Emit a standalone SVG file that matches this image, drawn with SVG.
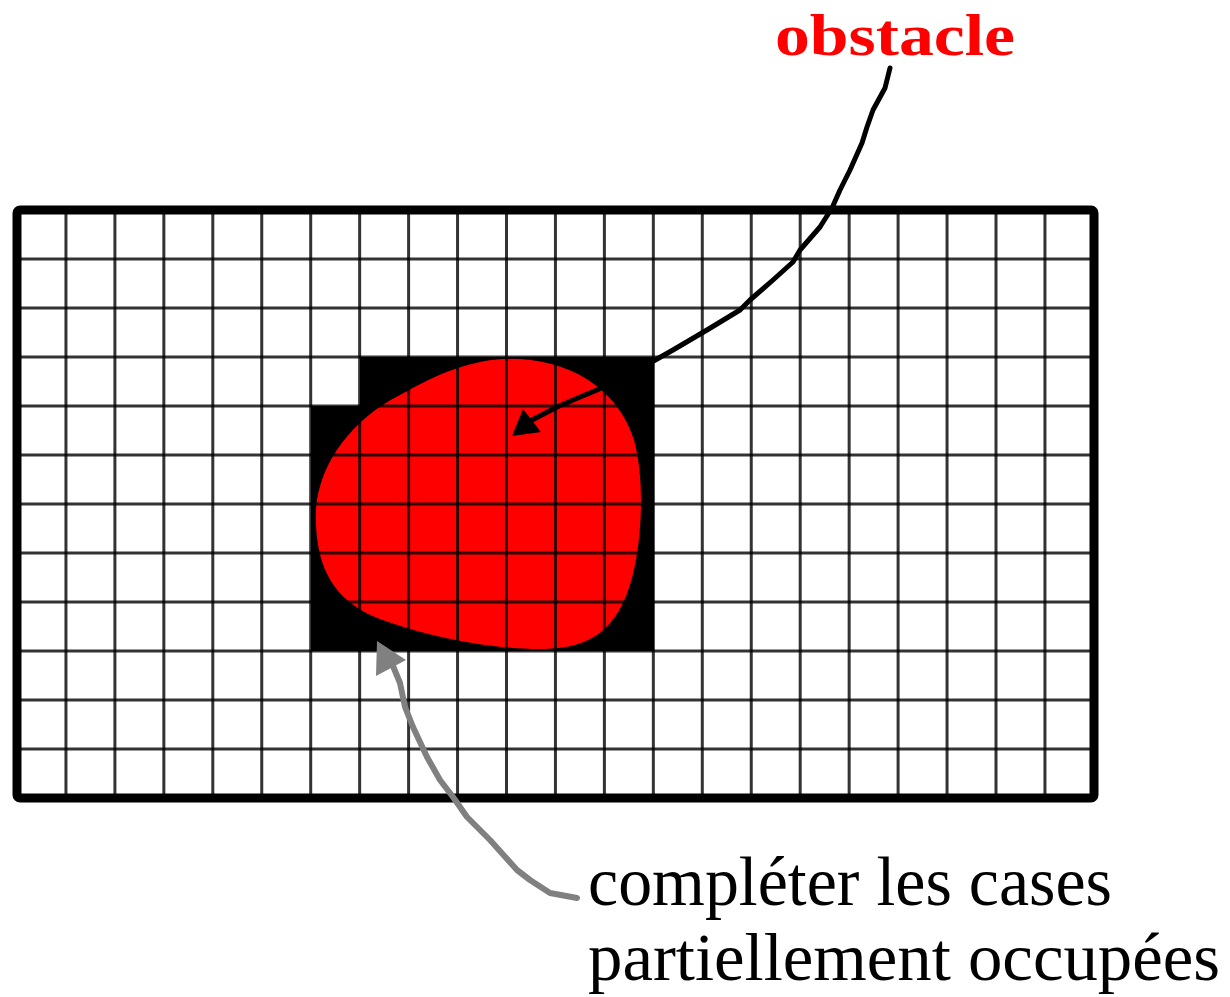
<svg xmlns="http://www.w3.org/2000/svg" width="1230" height="997" viewBox="0 0 1230 997">
<style>
.grid line{stroke:#000;stroke-opacity:0.8;stroke-width:3}
.lbl{font-family:"Liberation Serif","Times New Roman",serif}
.wire{fill:none;stroke-linejoin:round;stroke-linecap:round}
</style>
<rect x="0" y="0" width="1230" height="997" fill="#fff"/>
<g id="occupied-cells">
<path d="M311,406 H360 V357 H654 V651 H311 Z" fill="#000"/>
</g>
<g id="obstacle">
<path d="M316,525 C312,470 350,420 400,395 C440,372 480,356 520,359 C580,363 620,395 634,440 C645,480 642,540 632,578 C618,630 590,648 545,649 C490,650 420,635 375,617 C335,600 318,570 316,525 Z" fill="#ff0000"/>
</g>
<g id="grid" class="grid">
<line x1="65.95" y1="210" x2="65.95" y2="798"/>
<line x1="114.9" y1="210" x2="114.9" y2="798"/>
<line x1="163.85" y1="210" x2="163.85" y2="798"/>
<line x1="212.8" y1="210" x2="212.8" y2="798"/>
<line x1="261.75" y1="210" x2="261.75" y2="798"/>
<line x1="310.7" y1="210" x2="310.7" y2="798"/>
<line x1="359.65" y1="210" x2="359.65" y2="798"/>
<line x1="408.6" y1="210" x2="408.6" y2="798"/>
<line x1="457.55" y1="210" x2="457.55" y2="798"/>
<line x1="506.5" y1="210" x2="506.5" y2="798"/>
<line x1="555.45" y1="210" x2="555.45" y2="798"/>
<line x1="604.4" y1="210" x2="604.4" y2="798"/>
<line x1="653.35" y1="210" x2="653.35" y2="798"/>
<line x1="702.3" y1="210" x2="702.3" y2="798"/>
<line x1="751.25" y1="210" x2="751.25" y2="798"/>
<line x1="800.2" y1="210" x2="800.2" y2="798"/>
<line x1="849.15" y1="210" x2="849.15" y2="798"/>
<line x1="898.1" y1="210" x2="898.1" y2="798"/>
<line x1="947.05" y1="210" x2="947.05" y2="798"/>
<line x1="996" y1="210" x2="996" y2="798"/>
<line x1="1044.95" y1="210" x2="1044.95" y2="798"/>
<line x1="17" y1="259" x2="1094" y2="259"/>
<line x1="17" y1="308" x2="1094" y2="308"/>
<line x1="17" y1="357" x2="1094" y2="357"/>
<line x1="17" y1="406" x2="1094" y2="406"/>
<line x1="17" y1="455" x2="1094" y2="455"/>
<line x1="17" y1="504" x2="1094" y2="504"/>
<line x1="17" y1="553" x2="1094" y2="553"/>
<line x1="17" y1="602" x2="1094" y2="602"/>
<line x1="17" y1="651" x2="1094" y2="651"/>
<line x1="17" y1="700" x2="1094" y2="700"/>
<line x1="17" y1="749" x2="1094" y2="749"/>
<rect x="17" y="210" width="1077" height="588" rx="3" fill="none" stroke="#000" stroke-width="9"/>
</g>
<g id="label-obstacle">
<text class="lbl" x="775" y="55" font-size="60" font-weight="bold" fill="#ff0000" textLength="240" lengthAdjust="spacingAndGlyphs">obstacle</text>
</g>
<g id="label-cases">
<text class="lbl" x="588" y="905" font-size="70" fill="#000" textLength="524" lengthAdjust="spacingAndGlyphs">compléter les cases</text>
<text class="lbl" x="588" y="980" font-size="68" fill="#000" textLength="632" lengthAdjust="spacingAndGlyphs">partiellement occupées</text>
</g>
<g id="connectors">
<polyline class="wire" stroke="#000" stroke-width="5" points="890,68 885,88 873,110 867,127 862,143 850,170 840,190 832,208 820,227 800,250 793,262 773,280 750,300 740,310 707,330 673,350 650,363 620,378 597,390 573,400 557,407 532,420"/>
<polygon points="512,436 523,409 541,432" fill="#000"/>
<polyline class="wire" stroke="#808080" stroke-width="6" points="577,898 550,893 530,880 517,870 490,840 467,817 453,797 440,780 427,757 413,727 405,707 400,683 393,666"/>
<polygon points="377,641 376,676 406,660" fill="#808080"/>
</g>
</svg>
